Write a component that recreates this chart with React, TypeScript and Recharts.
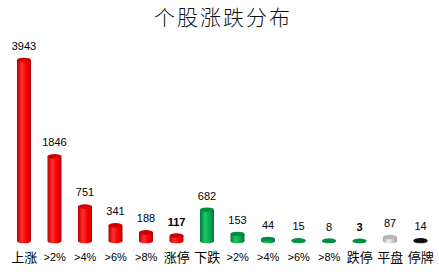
import React from 'react';
import { BarChart, Bar, XAxis, YAxis, LabelList, Cell } from 'recharts';

const categories = ['上涨', '>2%', '>4%', '>6%', '>8%', '涨停', '下跌', '>2%', '>4%', '>6%', '>8%', '跌停', '平盘', '停牌'];
const values = [3943, 1846, 751, 341, 188, 117, 682, 153, 44, 15, 8, 3, 87, 14];
const groups = ['up', 'up', 'up', 'up', 'up', 'up', 'down', 'down', 'down', 'down', 'down', 'down', 'flat', 'halt'];
const boldLabels = ['涨停', '跌停'];
const title = '个股涨跌分布';

const data = categories.map((c, i) => ({ key: i, name: c, value: values[i], group: groups[i] }));

const palette: Record<string, { edge: string; mid: string; light: string; top: string }> = {
  up: { edge: '#b80000', mid: '#ff0000', light: '#ff3030', top: '#d00000' },
  down: { edge: '#00753a', mid: '#00b050', light: '#22c466', top: '#008f40' },
  flat: { edge: '#9a9a9a', mid: '#d8d8d8', light: '#f0f0f0', top: '#b8b8b8' },
  halt: { edge: '#000000', mid: '#303030', light: '#505050', top: '#101010' },
};

const Cylinder = (props: any) => {
  const { x, y, width, height, payload } = props;
  const g = payload.group;
  const rx = width / 2;
  const ry = 2.3;
  const h = Math.max(height, 0);
  const cx = x + rx;
  const body = `M${x},${y} L${x},${y + h} A${rx},${ry} 0 0 0 ${x + width},${y + h} L${x + width},${y} Z`;
  return (
    <g>
      <path d={body} fill={`url(#grad-${g})`} />
      <ellipse cx={cx} cy={y} rx={rx} ry={ry} fill={palette[g].top} />
    </g>
  );
};

const ValueLabel = (props: any) => {
  const { x, y, width, value, index } = props;
  const bold = boldLabels.includes(categories[index]);
  return (
    <text
      x={x + width / 2}
      y={y - 13}
      textAnchor="middle"
      dominantBaseline="middle"
      fontFamily="'Liberation Sans', Arial, sans-serif"
      fontSize={11}
      fontWeight={bold ? 'bold' : 'normal'}
      fill="#000"
      style={{ fill: '#000' }}
    >
      {value}
    </text>
  );
};

const CatTick = (props: any) => {
  const { x, y, payload } = props;
  const label = categories[payload.value];
  const isCjk = /[\u4e00-\u9fff]/.test(label);
  return (
    <text
      x={x}
      y={y + 9}
      textAnchor="middle"
      dominantBaseline="middle"
      fontFamily={isCjk ? "'Noto Sans CJK SC', sans-serif" : "'Liberation Sans', Arial, sans-serif"}
      fontSize={isCjk ? 13 : 11}
      fill="#000"
      style={{ fill: '#000' }}
    >
      {label}
    </text>
  );
};

export default function App() {
  return (
    <div style={{ position: 'absolute', left: 0, top: 0, width: 439, height: 276, background: '#fff' }}>
      <div
        style={{
          position: 'absolute',
          left: 0,
          top: 1,
          width: 446,
          textAlign: 'center',
          fontFamily: "'Noto Sans CJK SC', sans-serif",
          fontSize: 21,
          fontWeight: 300,
          color: '#111',
          lineHeight: '30px',
          letterSpacing: 2,
        }}
      >
        {title}
      </div>
      <BarChart width={439} height={276} data={data} margin={{ top: 60, right: 3, bottom: 5, left: 9 }} barCategoryGap={0}>
        <defs>
          {Object.keys(palette).map((k) => (
            <linearGradient key={k} id={`grad-${k}`} x1="0" y1="0" x2="1" y2="0">
              <stop offset="0%" stopColor={palette[k].edge} />
              <stop offset="35%" stopColor={palette[k].light} />
              <stop offset="65%" stopColor={palette[k].mid} />
              <stop offset="100%" stopColor={palette[k].edge} />
            </linearGradient>
          ))}
        </defs>
        <XAxis dataKey="key" axisLine={false} tickLine={false} height={30} tick={<CatTick />} interval={0} />
        <YAxis hide domain={[0, 3943]} />
        <Bar dataKey="value" barSize={14} shape={<Cylinder />} isAnimationActive={false}>
          {data.map((d) => (
            <Cell key={d.key} />
          ))}
          <LabelList dataKey="value" content={<ValueLabel />} />
        </Bar>
      </BarChart>
    </div>
  );
}
